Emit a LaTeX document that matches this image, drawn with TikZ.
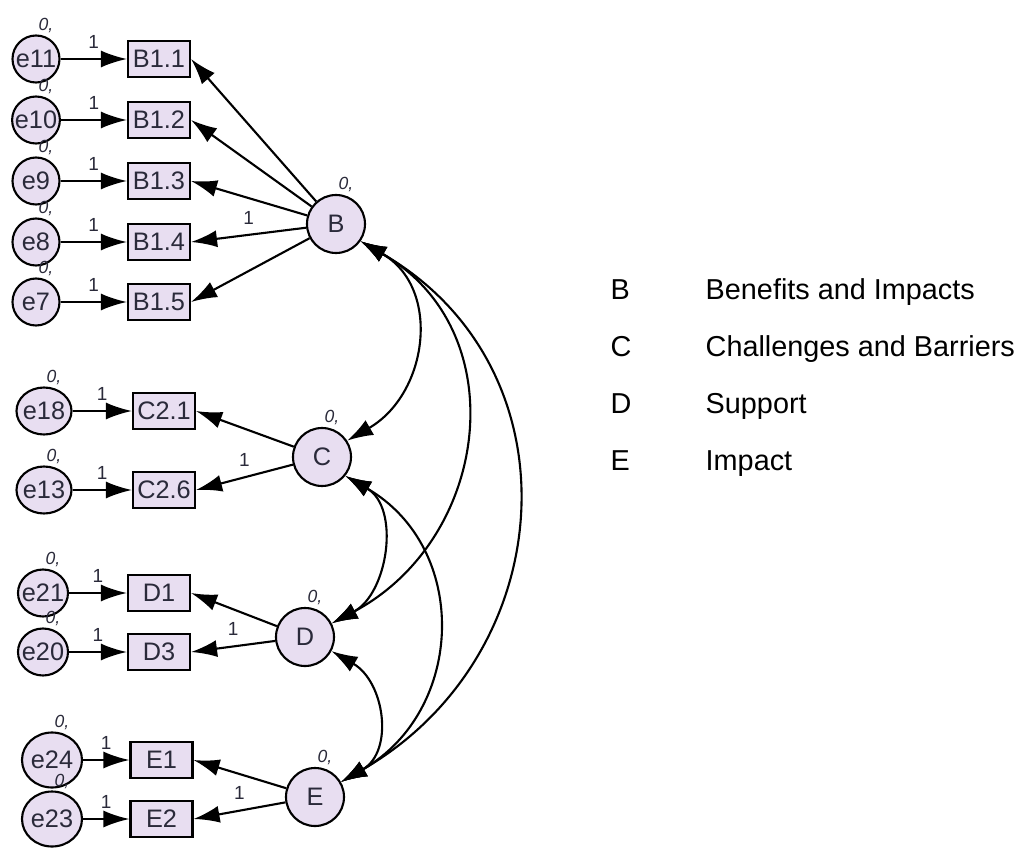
\documentclass[tikz,border=0pt]{standalone}
\usepackage{fontspec}
\setmainfont{Liberation Sans}
\usetikzlibrary{arrows.meta,shapes.geometric,positioning}
\definecolor{latentfill}{HTML}{E8DEF1}
\definecolor{inktext}{HTML}{2A2A3A}

\begin{document}
\begin{tikzpicture}[>={Latex[length=2.6mm,width=1.7mm]},
    every node/.style={text=inktext},
    obsbox/.style={draw, fill=latentfill, line width=0.6pt, minimum width=6.2mm, minimum height=3.6mm, inner sep=0pt, font=\fontsize{7.2}{8}\selectfont},
    errnode/.style={ellipse, draw, fill=latentfill, line width=0.6pt, minimum width=4.7mm, minimum height=4.7mm, inner xsep=-1.2pt, inner ysep=0pt, font=\fontsize{7.2}{8}\selectfont, label distance=0.7mm, label={[zerolbl]above:{0,}}},
    latnode/.style={circle, draw, fill=latentfill, line width=0.6pt, minimum size=5.8mm, inner sep=0pt, font=\fontsize{7.2}{8}\selectfont, label distance=0.6mm, label={[zerolbl]above:{0,}}},
    zerolbl/.style={font=\fontsize{5}{6}\selectfont\itshape, inner sep=0.3pt, xshift=1mm},
    onelbl/.style={font=\fontsize{5.4}{6}\selectfont, inner sep=0.5pt},
    loadarrow/.style={->, line width=0.6pt},
    covarrow/.style={<->, line width=0.6pt, looseness=1.2},
    legtext/.style={anchor=base west, inner sep=0pt, font=\fontsize{8.2}{10}\selectfont, text=black}]
    \useasboundingbox (0,0) rectangle (10.25,8.48);

    % Latent factors
    \node[latnode] (B) at (3.36,6.24) {B};
    \node[latnode] (C) at (3.22,3.91) {C};
    \node[latnode] (D) at (3.05,2.11) {D};
    \node[latnode] (E) at (3.15,0.51) {E};

    % Indicators of B
    \node[obsbox] (B11) at (1.59,7.89) {B1.1};
    \node[obsbox] (B12) at (1.59,7.28) {B1.2};
    \node[obsbox] (B13) at (1.59,6.67) {B1.3};
    \node[obsbox] (B14) at (1.59,6.06) {B1.4};
    \node[obsbox] (B15) at (1.59,5.46) {B1.5};
    \node[errnode] (e11) at (0.36,7.89) {e11};
    \node[errnode] (e10) at (0.36,7.28) {e10};
    \node[errnode] (e9) at (0.36,6.67) {e9};
    \node[errnode] (e8) at (0.36,6.06) {e8};
    \node[errnode] (e7) at (0.36,5.46) {e7};

    % Indicators of C
    \node[obsbox] (C21) at (1.64,4.37) {C2.1};
    \node[obsbox] (C26) at (1.64,3.58) {C2.6};
    \node[errnode, minimum width=5.5mm] (e18) at (0.44,4.37) {e18};
    \node[errnode, minimum width=5.5mm] (e13) at (0.44,3.58) {e13};

    % Indicators of D
    \node[obsbox] (D1) at (1.59,2.55) {D1};
    \node[obsbox] (D3) at (1.59,1.96) {D3};
    \node[errnode, minimum width=5mm] (e21) at (0.43,2.55) {e21};
    \node[errnode, minimum width=5mm] (e20) at (0.43,1.96) {e20};

    % Indicators of E
    \node[obsbox] (E1) at (1.615,0.88) {E1};
    \node[obsbox] (E2) at (1.615,0.29) {E2};
    \node[errnode, minimum width=6mm, minimum height=5.5mm] (e24) at (0.52,0.88) {e24};
    \node[errnode, minimum width=6mm, minimum height=5.5mm] (e23) at (0.52,0.29) {e23};

    % Error paths
    \draw[loadarrow] (e11) -- (B11) node[onelbl, midway, above=0.8mm] {1};
    \draw[loadarrow] (e10) -- (B12) node[onelbl, midway, above=0.8mm] {1};
    \draw[loadarrow] (e9) -- (B13) node[onelbl, midway, above=0.8mm] {1};
    \draw[loadarrow] (e8) -- (B14) node[onelbl, midway, above=0.8mm] {1};
    \draw[loadarrow] (e7) -- (B15) node[onelbl, midway, above=0.8mm] {1};
    \draw[loadarrow] (e18) -- (C21) node[onelbl, midway, above=0.8mm] {1};
    \draw[loadarrow] (e13) -- (C26) node[onelbl, midway, above=0.8mm] {1};
    \draw[loadarrow] (e21) -- (D1) node[onelbl, midway, above=0.8mm] {1};
    \draw[loadarrow] (e20) -- (D3) node[onelbl, midway, above=0.8mm] {1};
    \draw[loadarrow] (e24) -- (E1) node[onelbl, midway, above=0.8mm] {1};
    \draw[loadarrow] (e23) -- (E2) node[onelbl, midway, above=0.8mm] {1};

    % Loadings
    \draw[loadarrow] (B) -- (B11.east);
    \draw[loadarrow] (B) -- (B12.east);
    \draw[loadarrow] (B) -- (B13.east);
    \draw[loadarrow] (B) -- (B14.east) node[onelbl, midway, above=0.8mm] {1};
    \draw[loadarrow] (B) -- (B15.east);
    \draw[loadarrow] (C) -- (C21.east);
    \draw[loadarrow] (C) -- (C26.east) node[onelbl, midway, above=0.8mm] {1};
    \draw[loadarrow] (D) -- (D1.east);
    \draw[loadarrow] (D) -- (D3.east) node[onelbl, midway, above=0.8mm] {1};
    \draw[loadarrow] (E) -- (E1.east);
    \draw[loadarrow] (E) -- (E2.east) node[onelbl, midway, above=0.8mm] {1};

    % Covariances
    \draw[covarrow] (B.-35) to[out=-30, in=30] (C.33);
    \draw[covarrow] (B.-35) to[out=-30, in=28] (D.27);
    \draw[covarrow] (B.-35) to[out=-30, in=30] (E.30);
    \draw[covarrow] (C.-39) to[out=-30, in=28, looseness=1.1] (D.27);
    \draw[covarrow] (C.-39) to[out=-30, in=30] (E.30);
    \draw[covarrow] (D.-28) to[out=-30, in=30] (E.30);

    % Legend
    \node[legtext] (kB) at (6.10,5.49) {B};
    \node[legtext] (tB) at (7.05,5.49) {Benefits and Impacts};
    \node[legtext] (kC) at (6.10,4.915) {C};
    \node[legtext] (tC) at (7.05,4.915) {Challenges and Barriers};
    \node[legtext] (kD) at (6.10,4.35) {D};
    \node[legtext] (tD) at (7.05,4.35) {Support};
    \node[legtext] (kE) at (6.10,3.78) {E};
    \node[legtext] (tE) at (7.05,3.78) {Impact};
\end{tikzpicture}
\end{document}
